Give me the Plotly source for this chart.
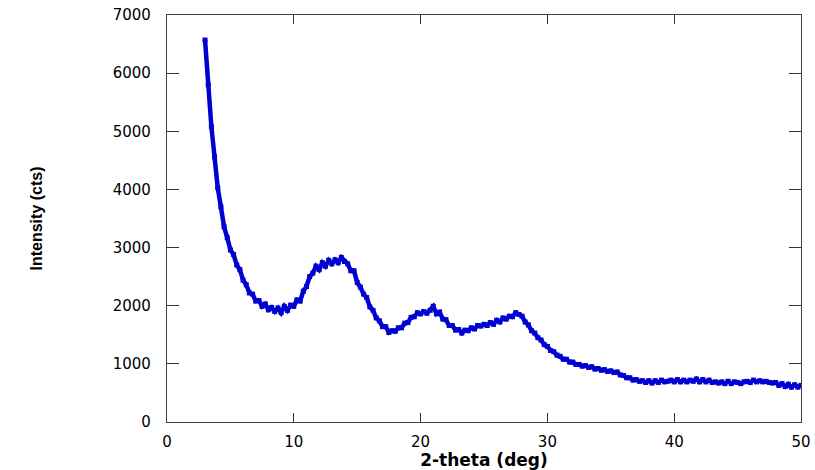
import numpy as np
import plotly.graph_objects as go

# XRD scan: 2-theta from 3 to 50 deg, sampled every 0.25 deg
two_theta_start = 3.0
two_theta_step = 0.25

intensity = [
    6570, 5800, 5080, 4560, 4030, 3700, 3360, 3170, 2960, 2880,
    2700, 2620, 2440, 2360, 2220, 2200, 2080, 2090, 1990, 2030,
    1930, 1970, 1900, 1960, 1880, 1990, 1920, 2010, 1990, 2100,
    2080, 2250, 2330, 2500, 2560, 2680, 2620, 2740, 2680, 2780,
    2720, 2790, 2740, 2830, 2760, 2720, 2600, 2600, 2400, 2320,
    2200, 2140, 1980, 1920, 1790, 1740, 1640, 1640, 1540, 1570,
    1560, 1620, 1620, 1700, 1710, 1800, 1810, 1880, 1860, 1900,
    1870, 1920, 1990, 1860, 1890, 1770, 1760, 1660, 1660, 1580,
    1590, 1530, 1580, 1570, 1620, 1600, 1660, 1650, 1680, 1660,
    1710, 1680, 1750, 1720, 1790, 1770, 1820, 1810, 1880, 1850,
    1820, 1720, 1670, 1570, 1530, 1450, 1410, 1330, 1300, 1230,
    1210, 1150, 1130, 1080, 1080, 1030, 1030, 990, 990, 960,
    970, 940, 950, 910, 920, 890, 900, 870, 880, 850,
    860, 810, 800, 760, 760, 720, 730, 700, 710, 680,
    710, 670, 710, 680, 720, 690, 700, 720, 690, 730,
    690, 720, 690, 720, 700, 740, 690, 730, 690, 720,
    680, 690, 670, 690, 660, 700, 660, 690, 680, 660,
    690, 700, 680, 720, 690, 710, 690, 700, 680, 670,
    680, 630, 660, 610, 650, 600, 640, 600, 630,
]
two_theta = two_theta_start + two_theta_step * np.arange(len(intensity))

x_ticks = [0, 10, 20, 30, 40, 50]
y_ticks = [0, 1000, 2000, 3000, 4000, 5000, 6000, 7000]

fig = go.Figure()
fig.add_trace(go.Scatter(
    x=two_theta, y=intensity, mode="lines+markers",
    line=dict(color="#0000d0", width=4.5),
    marker=dict(symbol="square", size=5, color="#0000d0"),
    showlegend=False,
))

tick_font = dict(family="DejaVu Sans", size=15, color="black")

fig.update_layout(
    width=815, height=470,
    margin=dict(l=167, r=14, t=15, b=48, autoexpand=False),
    paper_bgcolor="white", plot_bgcolor="white",
    xaxis=dict(
        range=[0, 50], tickvals=x_ticks, ticks="inside", ticklen=9,
        tickcolor="#333", showline=True, linecolor="#444", linewidth=1.2,
        mirror="ticks", showgrid=False, zeroline=False, automargin=False,
        tickfont=tick_font, ticklabelstandoff=6,
        title=dict(text="2-theta (deg)", standoff=2,
                   font=dict(family="DejaVu Sans", size=17, color="black", weight="bold")),
    ),
    yaxis=dict(
        range=[0, 7000], tickvals=y_ticks, ticks="inside", ticklen=12,
        tickcolor="#333", showline=True, linecolor="#444", linewidth=1.2,
        mirror="ticks", showgrid=False, zeroline=False, automargin=False,
        tickfont=tick_font, ticklabelstandoff=12,
        title=dict(text="Intensity (cts)", standoff=66,
                   font=dict(family="Liberation Sans", size=16, color="black", weight="bold")),
    ),
)

fig.write_html("out.html")
